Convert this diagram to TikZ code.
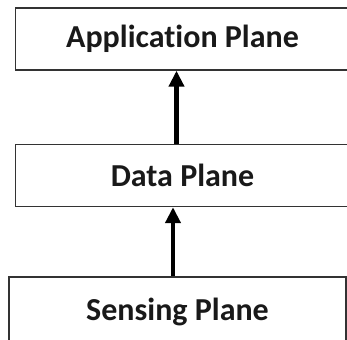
\documentclass[tikz,border=0pt]{standalone}
\usepackage{fontspec}
\setmainfont{Carlito}[Ligatures={NoCommon}]
\usetikzlibrary{arrows.meta}
\begin{document}
\begin{tikzpicture}[x=1pt,y=-1pt,
  plane/.style={draw=black!80, line width=1.4pt, inner sep=0pt,
    font=\fontsize{32}{38}\selectfont\bfseries, text=black!90},
  uparrow/.style={line width=4.5pt, -{Triangle[width=15pt,length=16pt]}}]
\useasboundingbox (0,0) rectangle (347,339);
\clip (0,0) rectangle (347,339);
\node[plane, minimum width=334pt, minimum height=62pt] (app) at (182.5,39) {Application Plane};
\node[plane, minimum width=334pt, minimum height=62pt] (data) at (182.5,175.5) {Data Plane};
\node[plane, minimum width=337pt, minimum height=70pt] (sense) at (177.5,312) {Sensing Plane};
\draw[uparrow] ([xshift=-6pt]data.north) -- ([xshift=-6pt]data.north |- app.south);
\draw[uparrow] ([xshift=-4.5pt]sense.north) -- ([xshift=-4.5pt]sense.north |- data.south);
\end{tikzpicture}
\end{document}
